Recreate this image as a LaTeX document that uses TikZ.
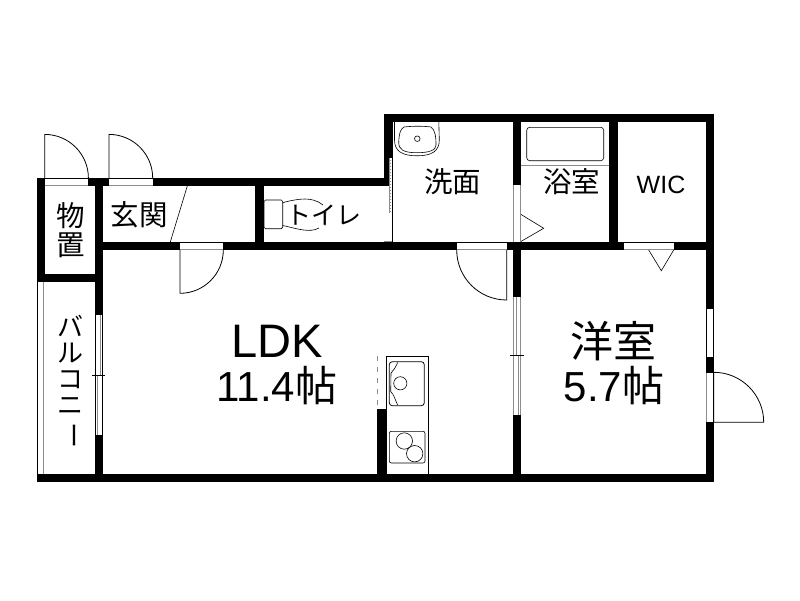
\documentclass[tikz,border=0pt]{standalone}
\usepackage{fontspec}
\setmainfont{Liberation Sans}
\newfontfamily\jp{Noto Sans CJK JP}
\definecolor{midgray}{gray}{0.55}
\tikzset{
  wall/.style={fill=black,draw=none},
  thin line/.style={draw=black,line width=0.8pt},
  hair/.style={draw=black,line width=0.6pt},
  grayline/.style={draw=midgray,line width=0.8pt},
  opening/.style={fill=white,draw=none},
  label/.style={inner sep=0pt,align=center,text=black},
}
\newcommand{\fs}[1]{\fontsize{#1}{#1}\selectfont}
\begin{document}
\begin{tikzpicture}[x=1pt,y=-1pt]
\useasboundingbox (0,0) rectangle (800,600);
\fill[white] (0,0) rectangle (800,600);
% walls
\fill[wall] (384,114) rectangle (714,122.3);
\fill[wall] (705.8,114) rectangle (714,482.3);
\fill[wall] (36.7,474) rectangle (714,482.3);
\fill[wall] (36.7,177.7) rectangle (44.7,282.3);
\fill[wall] (36.7,177.7) rectangle (392.7,186);
\fill[wall] (94.7,177.7) rectangle (102.7,482.3);
\fill[wall] (36.7,274.3) rectangle (102.7,282.3);
\fill[wall] (94.7,241.8) rectangle (714,250.2);
\fill[wall] (255.3,177.7) rectangle (264,250);
\fill[wall] (384,114) rectangle (392.7,158);
\fill[wall] (384,158) rectangle (389,186);
\fill[white] (389,158) rectangle (392.7,186);
\fill[wall] (512.7,114) rectangle (520.7,185.3);
\fill[wall] (512.7,242) rectangle (521.2,296.7);
\fill[wall] (512.7,415.7) rectangle (521.2,482);
\fill[wall] (609.3,114) rectangle (618,250);
\fill[wall] (377.3,409.3) rectangle (386,482);
% door storage
\fill[opening] (44.7,178.2) rectangle (88.3,185.4);
\draw[thin line] (44.7,178.2) -- (88.3,178.2);
\draw[grayline] (44.7,185.4) -- (88.3,185.4);
\draw[thin line] (44.7,178.2) -- (44.7,134.4) arc[start angle=90,end angle=0,radius=43.7pt];
% door entry
\fill[opening] (109,178.2) rectangle (152.5,185.4);
\draw[thin line] (109,178.2) -- (152.5,178.2);
\draw[grayline] (109,185.4) -- (152.5,185.4);
\draw[thin line] (109,178.2) -- (109,134.4) arc[start angle=90,end angle=0,radius=43.7pt];
% door LDK from entry
\fill[opening] (180,242.4) rectangle (223.3,249.6);
\draw[thin line] (180,242.4) -- (223.3,242.4);
\draw[grayline] (180,249.6) -- (223.3,249.6);
\draw[thin line] (223.3,250) arc[start angle=0,end angle=-90,radius=43.3pt] -- (180,250);
% door LDK from washroom
\fill[opening] (456.7,242.4) rectangle (506.7,249.6);
\draw[thin line] (456.7,242.4) -- (506.7,242.4);
\draw[grayline] (456.7,249.6) -- (506.7,249.6);
\draw[thin line] (456.7,250) arc[start angle=180,end angle=270,radius=50pt] -- (506.7,250);
% entry floor line
\draw[hair] (187.3,186) -- (170.3,242);
% sliding door of washroom
\fill[opening] (384.5,186.2) rectangle (392.7,241.5);
\fill[midgray] (389.2,158) rectangle (391.4,213);
\draw[white,line width=0.8pt,dash pattern=on 1.5pt off 1.5pt] (390.3,158) -- (390.3,213);
\draw[hair] (392.2,158) -- (392.2,242);
\draw[grayline] (383.5,241.6) -- (392,241.6);
% basin
\draw[hair] (394.5,122) -- (394.5,140) .. controls (394.5,151) and (402,155.8) .. (417,155.8) .. controls (432,155.8) and (439.3,151) .. (439.3,140) -- (438.8,122);
\draw[hair] (398.7,142) .. controls (399,135) and (400,129) .. (404,127) .. controls (412,126) and (424,126) .. (431,127) .. controls (435,130) and (436,136) .. (436,145) .. controls (436,150) and (430,152.7) .. (417,152.7) .. controls (404,152.7) and (398.5,150) .. (398.7,142) -- cycle;
\draw[hair] (417.3,138.7) circle[radius=2.8pt];
% toilet
\draw[hair,rounded corners=1.5pt] (264,200) rectangle (282.7,228.7);
\draw[hair] (282.7,203) -- (285,202) .. controls (298,199) and (312,196) .. (323,205);
\draw[hair] (282.7,225.5) -- (285,226) .. controls (298,229) and (310,233) .. (319,228);
\draw[grayline] (326,211) -- (325,226);
% bath
\fill[opening] (512.9,185.3) rectangle (519.3,241.8);
\draw[grayline] (513.2,185.3) -- (513.2,241.8);
\draw[hair] (520.3,214) -- (543.7,228.3) -- (520.3,241.8);
\draw[grayline] (520.3,185.3) -- (520.3,241.8);
\draw[grayline] (520.7,165.7) -- (609.3,165.7);
\draw[hair,rounded corners=3pt] (526.7,127.3) rectangle (603.7,160.7);
% WIC door
\fill[opening] (624,242.4) rectangle (673.7,249.6);
\draw[thin line] (624,242.4) -- (673.7,242.4);
\draw[grayline] (624,249.6) -- (673.7,249.6);
\draw[hair] (648.7,250) -- (661.3,270.7) -- (673.7,250);
% right window
\fill[opening] (706.3,308.3) rectangle (713.6,357.7);
\draw[thin line] (706.3,308.3) rectangle (713.6,357.7);
% right door
\fill[opening] (706.6,372.7) rectangle (713.3,422.3);
\draw[grayline] (706.6,372.7) -- (706.6,422.3);
\draw[thin line] (713.6,372.7) -- (713.6,422.3) -- (763.7,422.3) arc[start angle=0,end angle=90,radius=50pt];
% LDK-room window
\fill[opening] (513,296.7) rectangle (521,415.7);
\draw[grayline] (513.2,296.7) -- (513.2,415.7);
\draw[grayline] (520.8,296.7) -- (520.8,415.7);
\draw[grayline] (516.7,296.7) -- (516.7,356);
\draw[grayline] (518.7,356) -- (518.7,415.7);
\draw[hair] (510,355.5) -- (523.7,355.5);
\draw[hair] (513,296.7) -- (521,296.7);
\draw[hair] (513,415.7) -- (521,415.7);
% balcony
\draw[hair] (37.3,282) -- (37.3,474);
\draw[grayline] (43.7,282) -- (43.7,474);
\fill[opening] (95,314.7) rectangle (102.4,435);
\draw[hair] (95,314.7) rectangle (102.4,435);
\draw[grayline] (100,314.7) -- (100,375);
\draw[grayline] (97.2,375) -- (97.2,435);
\draw[hair] (92,375) -- (105,375);
% kitchen
\draw[grayline,dash pattern=on 5pt off 6pt] (377.7,356) -- (377.7,409);
\draw[hair] (386,356.7) rectangle (428.7,474);
\draw[thin line,rounded corners=3pt] (389.3,361.7) rectangle (424.3,405.7);
\draw[hair] (397.7,362.5) .. controls (395,368) and (394,370) .. (391,373) -- (390.7,391.7) .. controls (394,394) and (395,400) .. (397.7,405);
\draw[hair] (400.3,383.3) circle[radius=6.6pt];
\draw[hair,rounded corners=2pt] (389.3,431.3) rectangle (425,463);
\draw[hair] (404.3,441) circle[radius=8.2pt];
\draw[hair,fill=white] (414.7,453.7) circle[radius=8.2pt];
% labels
\node[label] (storeA) at (70.7,216) {\jp\fs{28.5}物};
\node[label] (storeB) at (70.7,245) {\jp\fs{28.5}置};
\node[label] (genkan) at (139,215) {\jp\fs{28.5}玄関};
\node[label] (toilet) at (323.7,215) {\jp\fs{25}トイレ};
\node[label] (senmen) at (452.7,182) {\jp\fs{28.5}洗面};
\node[label] (yokushitsu) at (571.7,181.7) {\jp\fs{28.5}浴室};
\node[label] (wic) at (661,184.5) {\fs{25}WIC};
\node[label] (ldk) at (277,341) {\fs{47}LDK};
\node[label] (ldkarea) at (277,386) {\fs{42}11.4\jp 帖};
\node[label] (yo) at (613,341) {\jp\fs{43}洋室};
\node[label] (yoarea) at (614,386) {\fs{42}5.7\jp 帖};
\node[label,font=\jp\fs{26}] (balcony) at (70,382) {バ\\ル\\コ\\ニ\\\rotatebox[origin=c]{-90}{ー}};
\end{tikzpicture}
\end{document}
